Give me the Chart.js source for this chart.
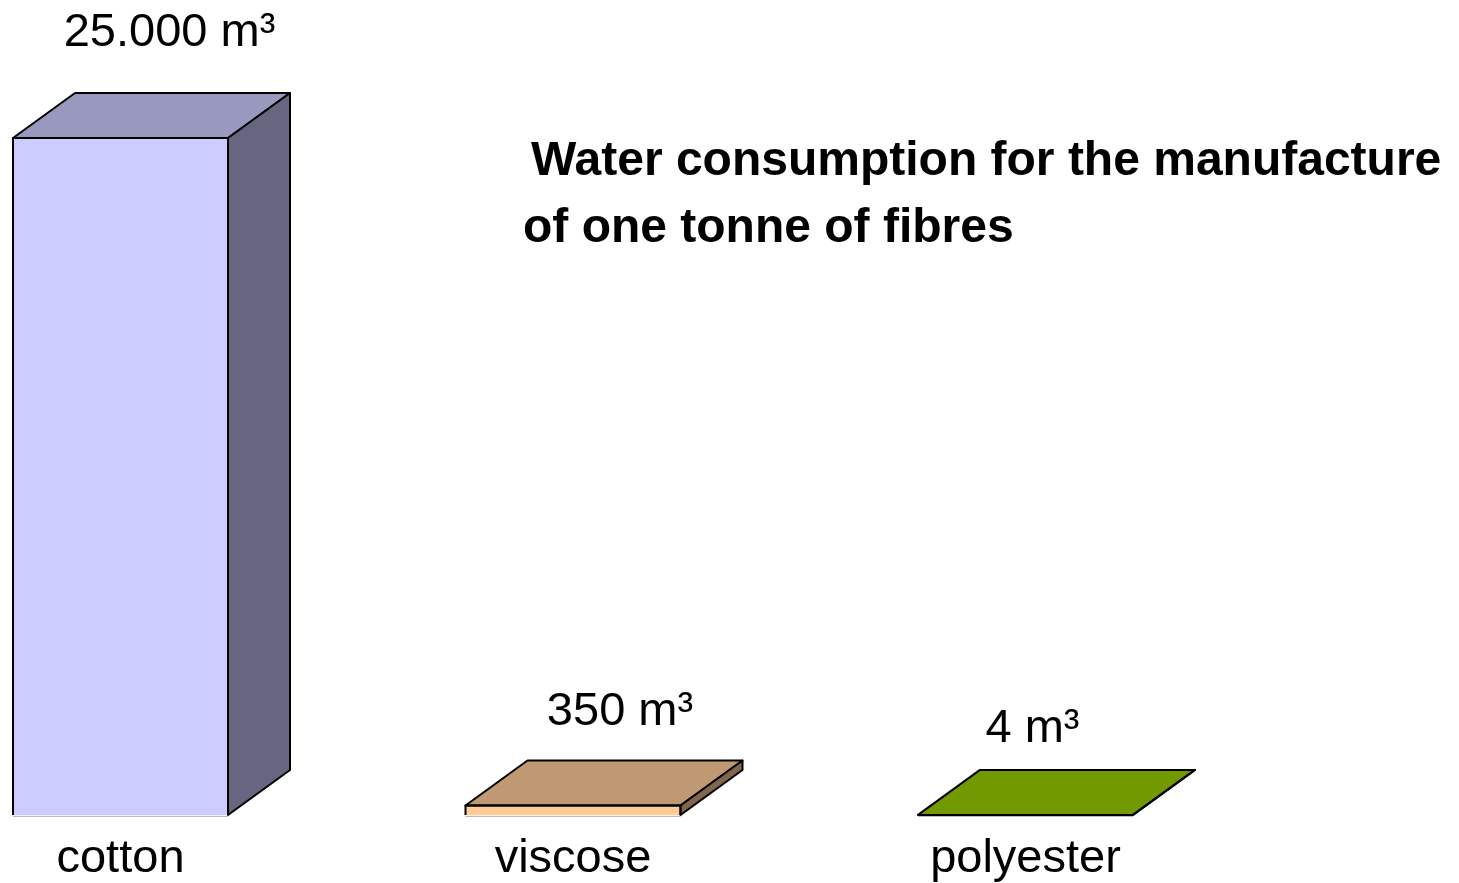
<!DOCTYPE html>
<html lang="en">
<head>
<meta charset="UTF-8" />
<title>Water consumption for the manufacture of one tonne of fibres</title>
<script src="https://cdn.jsdelivr.net/npm/chart.js"></script>
<style>
  html, body { margin: 0; padding: 0; background: #fff; }
  #wrap { width: 1459px; height: 883px; position: relative; }
</style>
</head>
<body>
<div id="wrap"><canvas id="fibreChart"></canvas></div>
<script>
  const fibres = ['cotton', 'viscose', 'polyester'];
  const waterM3 = [25000, 350, 4];
  const valueLabels = ['25.000 m³', '350 m³', '4 m³'];
  const titleLines = ['Water consumption for the manufacture', 'of one tonne of fibres'];

  const frontColors = ['#CCCCFF', '#FFCC99', '#99CC00'];
  const topColors = ['#9999BF', '#BF9973', '#739900'];
  const sideColors = ['#666680', '#80664D', '#4D6600'];

  const FONT = '"Liberation Sans", Arial, sans-serif';

  // draws the depth (top + side faces), outlines, value labels and the title
  const box3d = {
    id: 'box3d',
    afterDatasetsDraw(chart, args, opts) {
      const ctx = chart.ctx;
      const meta = chart.getDatasetMeta(0);
      const dx = opts.depthX, dy = opts.depthY;
      ctx.save();
      ctx.lineJoin = 'round';
      meta.data.forEach((bar, i) => {
        const { x, y, base, width } = bar.getProps(['x', 'y', 'base', 'width'], true);
        const l = x - width / 2, r = x + width / 2;

        // top face
        ctx.beginPath();
        ctx.moveTo(l, y);
        ctx.lineTo(l + dx, y + dy);
        ctx.lineTo(r + dx, y + dy);
        ctx.lineTo(r, y);
        ctx.closePath();
        ctx.fillStyle = topColors[i];
        ctx.fill();
        ctx.lineWidth = 2;
        ctx.strokeStyle = '#000';
        ctx.stroke();

        // side face
        ctx.beginPath();
        ctx.moveTo(r, y);
        ctx.lineTo(r + dx, y + dy);
        ctx.lineTo(r + dx, base + dy);
        ctx.lineTo(r, base);
        ctx.closePath();
        ctx.fillStyle = sideColors[i];
        ctx.fill();
        ctx.stroke();

        // front outline
        ctx.beginPath();
        ctx.moveTo(l, base);
        ctx.lineTo(l, y);
        ctx.lineTo(r, y);
        ctx.lineTo(r, base);
        ctx.stroke();

        // floor line under the front
        ctx.beginPath();
        ctx.moveTo(l, base + 1.5);
        ctx.lineTo(r, base + 1.5);
        ctx.lineWidth = 1;
        ctx.strokeStyle = '#BBBBBB';
        ctx.stroke();

        // value label
        const off = opts.labelOffsets[i];
        ctx.fillStyle = '#000';
        ctx.font = '47px ' + FONT;
        ctx.textAlign = 'center';
        ctx.textBaseline = 'alphabetic';
        ctx.fillText(valueLabels[i], x + off[0], y + off[1]);
      });

      // title
      ctx.font = 'bold 48px ' + FONT;
      ctx.textAlign = 'left';
      ctx.fillStyle = '#000';
      ctx.fillText(titleLines[0], 531, 175);
      ctx.fillText(titleLines[1], 523, 242);
      ctx.restore();
    }
  };

  new Chart(document.getElementById('fibreChart'), {
    type: 'bar',
    data: {
      labels: fibres,
      datasets: [{
        data: waterM3,
        backgroundColor: frontColors,
        borderWidth: 0,
        barThickness: 215,
        clip: false
      }]
    },
    options: {
      responsive: true,
      maintainAspectRatio: false,
      animation: false,
      layout: { padding: { left: 120.5, right: 433.5, top: 138, bottom: 0 } },
      plugins: {
        legend: { display: false },
        tooltip: { enabled: false },
        box3d: {
          depthX: 62,
          depthY: -45,
          labelOffsets: [[49, -92], [47, -81], [7, -73]]
        }
      },
      scales: {
        x: {
          offset: false,
          grid: { display: false, drawTicks: false },
          border: { display: false },
          ticks: {
            color: '#000',
            font: { family: FONT, size: 47, lineHeight: 1 },
            padding: 21,
            maxRotation: 0,
            autoSkip: false
          },
          afterFit(scale) { scale.height = 68; }
        },
        y: { display: false, min: 0, max: Math.max(...waterM3) }
      }
    },
    plugins: [box3d]
  });
</script>
</body>
</html>
